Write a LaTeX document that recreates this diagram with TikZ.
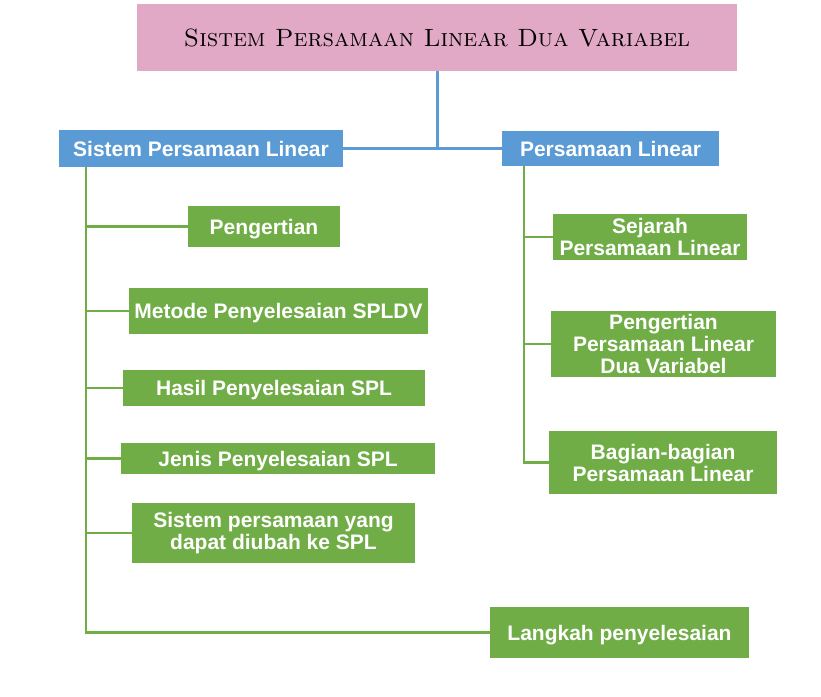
\documentclass[tikz,border=0pt]{standalone}
\usepackage{fontspec}
\newfontfamily\boxfont{Liberation Sans}
\usepackage{xcolor}
\usepackage{tikz}
\usetikzlibrary{positioning}
\definecolor{pinkjudul}{HTML}{E2A9C6}
\definecolor{biru}{HTML}{5B9BD5}
\definecolor{hijau}{HTML}{70AD47}
\tikzset{
judul/.style = {rectangle, fill=pinkjudul, inner sep=0pt,
                font=\fontsize{25}{27}\selectfont\scshape},
kotakbiru/.style = {rectangle, fill=biru, text=white, inner sep=0pt,
                    text height=15pt, text depth=0pt,
                    font=\boxfont\bfseries\fontsize{21}{22}\selectfont},
kotakhijau/.style = {rectangle, fill=hijau, text=white, inner sep=0pt, align=center,
                     font=\boxfont\bfseries\fontsize{21}{22}\selectfont},
satubaris/.style = {text height=15pt, text depth=0pt},
garisbiru/.style = {draw=biru, line width=3pt},
garishijau/.style = {draw=hijau, line width=2.5pt}
}

\begin{document}
\begin{tikzpicture}[x=1pt, y=-1pt]
\useasboundingbox (0,0) rectangle (821,696);

\node[judul, minimum width=600pt, minimum height=67pt] (judul) at (437,37.5) {Sistem Persamaan Linear Dua Variabel};
\node[kotakbiru, minimum width=284pt, minimum height=37pt] (spl) at (201,148.5) {Sistem Persamaan Linear};
\node[kotakbiru, minimum width=217pt, minimum height=35pt] (pl) at (610.5,148.5) {Persamaan Linear};

% cabang kiri
\node[kotakhijau, satubaris, minimum width=152pt, minimum height=41pt] (pengertian) at (264,226.5) {Pengertian};
\node[kotakhijau, satubaris, minimum width=299pt, minimum height=46pt] (metode) at (278.5,311) {Metode Penyelesaian SPLDV};
\node[kotakhijau, satubaris, minimum width=302pt, minimum height=36pt] (hasil) at (274,388) {Hasil Penyelesaian SPL};
\node[kotakhijau, satubaris, minimum width=314pt, minimum height=31pt] (jenis) at (278,458.5) {Jenis Penyelesaian SPL};
\node[kotakhijau, minimum width=283pt, minimum height=60pt] (diubah) at (273.5,533) {Sistem persamaan yang\\dapat diubah ke SPL};
\node[kotakhijau, satubaris, minimum width=259pt, minimum height=51pt] (langkah) at (619.5,632.5) {Langkah penyelesaian};

% cabang kanan
\node[kotakhijau, minimum width=194pt, minimum height=46pt] (sejarah) at (650,237) {Sejarah\\Persamaan Linear};
\node[kotakhijau, minimum width=225pt, minimum height=66pt] (pengpldv) at (663.5,344) {Pengertian\\Persamaan Linear\\Dua Variabel};
\node[kotakhijau, minimum width=228pt, minimum height=63pt] (bagian) at (663,462.5) {Bagian-bagian\\Persamaan Linear};

\coordinate (batangkiri) at ([xshift=27pt]spl.south west);
\coordinate (batangkanan) at ([xshift=22pt]pl.south west);

\draw [garisbiru] (judul.south) -- (judul.south |- spl.east);
\draw [garisbiru] (spl.east) -- (pl.west);

\draw [garishijau] (batangkiri) |- (langkah.west);
\draw [garishijau] (batangkiri |- pengertian.west) -- (pengertian.west);
\draw [garishijau] (batangkiri |- metode.west) -- (metode.west);
\draw [garishijau] (batangkiri |- hasil.west) -- (hasil.west);
\draw [garishijau] (batangkiri |- jenis.west) -- (jenis.west);
\draw [garishijau] (batangkiri |- diubah.west) -- (diubah.west);

\draw [garishijau] (batangkanan) |- (bagian.west);
\draw [garishijau] (batangkanan |- sejarah.west) -- (sejarah.west);
\draw [garishijau] (batangkanan |- pengpldv.west) -- (pengpldv.west);
\end{tikzpicture}
\end{document}
